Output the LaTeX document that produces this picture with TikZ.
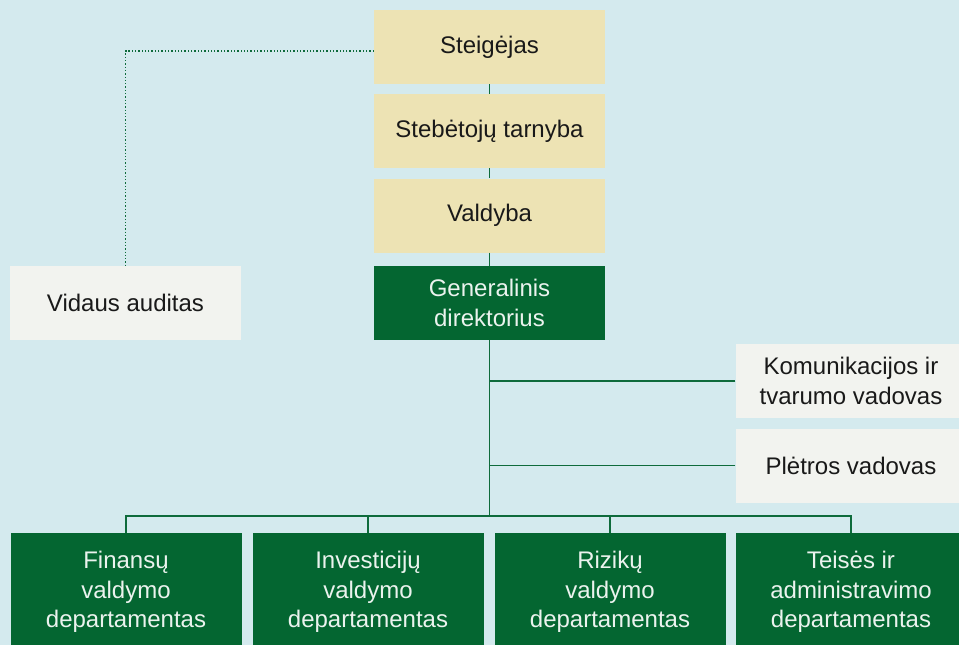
\documentclass[tikz,border=0pt]{standalone}
\usepackage{fontspec}
\setmainfont{Liberation Sans}
\definecolor{bgblue}{HTML}{D4EAEE}
\definecolor{beige}{HTML}{EDE3B4}
\definecolor{dkgreen}{HTML}{046631}
\definecolor{ltgrey}{HTML}{F2F3EF}
\definecolor{linegreen}{HTML}{0E6B3B}
\begin{document}
\begin{tikzpicture}[x=1pt, y=-1pt,
  box/.style={rectangle, minimum width=231pt, minimum height=74pt, inner sep=0pt,
    align=center, font=\fontsize{24}{29.5}\selectfont},
  board/.style={box, fill=beige, text=black!90},
  head/.style={box, fill=dkgreen, text=white!92!dkgreen},
  staff/.style={box, fill=ltgrey, text=black!90},
  dept/.style={head, minimum height=118pt},
  link/.style={linegreen, line width=1.5pt}]
\fill[bgblue] (0,0) rectangle (959,645);
\useasboundingbox (0,0) rectangle (959,645);

\node[board] (steig) at (489.5,47) {Steigėjas};
\node[board] (steb) at (489.5,131) {Stebėtojų tarnyba};
\node[board] (vald) at (489.5,215.5) {Valdyba};
\node[head] (gen) at (489.5,303) {Generalinis\\direktorius};
\node[staff] (audit) at (125.5,303) {Vidaus auditas};
\node[staff] (komun) at (851,381) {Komunikacijos ir\\tvarumo vadovas};
\node[staff] (plet) at (851,465.5) {Plėtros vadovas};

\node[dept] (fin) at (126,592) {Finansų\\valdymo\\departamentas};
\node[dept] (inv) at (368,592) {Investicijų\\valdymo\\departamentas};
\node[dept] (riz) at (610,592) {Rizikų\\valdymo\\departamentas};
\node[dept] (teis) at (851,592) {Teisės ir\\administravimo\\departamentas};

\coordinate (bus) at (489.5,516);

\draw[link] (steig) -- (steb);
\draw[link] (steb) -- (vald);
\draw[link] (vald) -- (gen);
\draw[link] (gen) -- (bus);
\draw[link] (komun.west) -- (komun.west -| gen.south);
\draw[link] (plet.west) -- (plet.west -| gen.south);
\draw[link] (fin.north) |- (bus) -| (teis.north);
\draw[link] (inv.north) -- (inv.north |- bus);
\draw[link] (riz.north) -- (riz.north |- bus);

\draw[link, line width=1.3pt, dotted] (steig.west |- 0,51) -| (audit.north);
\end{tikzpicture}
\end{document}
